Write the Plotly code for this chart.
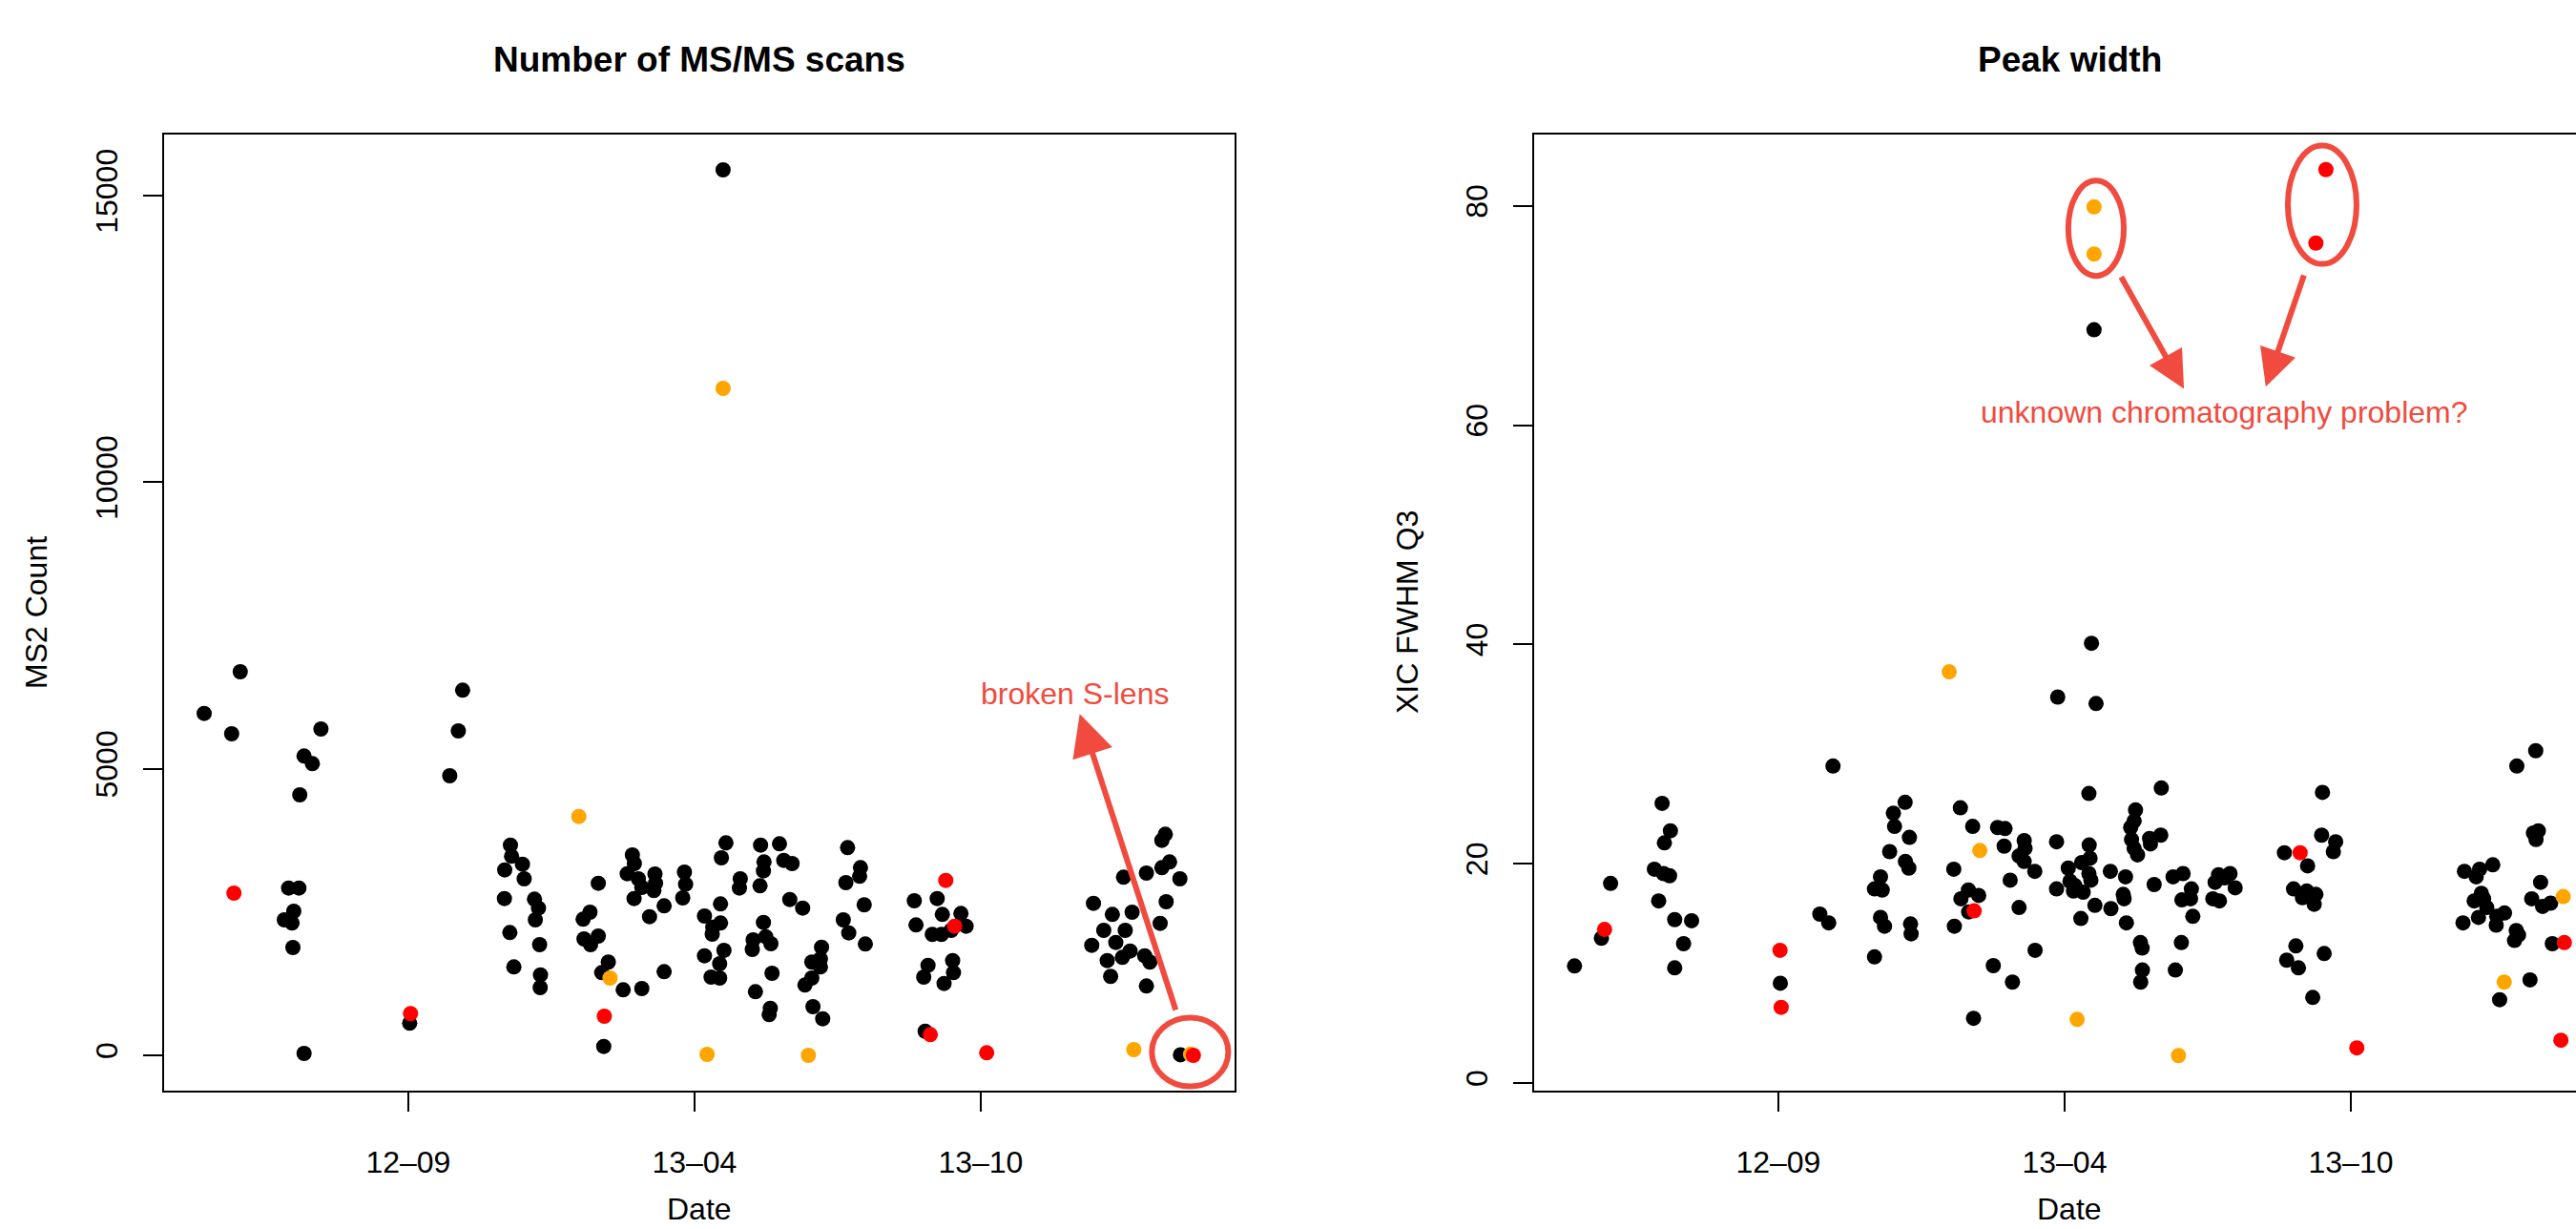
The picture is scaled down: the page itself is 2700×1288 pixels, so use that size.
import plotly.graph_objects as go

W, H = 2700, 1288
FONT = "Liberation Sans, Arial, Helvetica, sans-serif"
ANN = "#F04B3E"

# ---------------- Data (x: position on date axis, 12-09=100, 13-04=200, 13-10=300) -------------
tick_vals = [100, 200, 300]
tick_text = ["12\u201309", "13\u201304", "13\u201310"]
ms2_ticks = [0, 5000, 10000, 15000]
ms2_tick_text = ["0", "5000", "10000", "15000"]
pw_ticks = [0, 20, 40, 60, 80]
pw_tick_text = ["0", "20", "40", "60", "80"]

# Left panel: MS2 Count
ms2_black_x = [41.3, 28.7, 38.3, 69.5, 63.6, 66.5, 62.1, 58.2, 61.8, 60, 56.7, 59.4, 59.7, 63.6, 119, 117.5, 114.5, 100.5,
               135.7, 136.1, 139.9, 133.7, 140.5, 133.6, 144.1, 145.5, 144.4, 135.5, 145.9, 136.9, 146.2, 146.1,
               166.4, 163.5, 161.1, 161.4, 166.4, 163.7, 169.9, 167.6, 175.1, 181.6, 189.4, 168.3,
               178.3, 179, 176.5, 180.4, 186.2, 186.4, 181.6, 185.8, 178.9, 184.3, 189.4, 196.5, 196.9, 195.9,
               211, 209.4, 216, 215.7, 223.1, 229.7, 224.3, 224.1, 231.2, 234.1, 222.9, 209.1, 203.5, 206.4, 209.1,
               206.2, 203.5, 210.3, 208.8, 205.8, 208.8, 233.3, 237.8, 224.1, 220.5, 224.9, 226.7, 220.2, 227.1,
               221.3, 226.5, 226.1, 244.4, 241, 244, 244, 241, 238.6, 241.4, 244.8, 253.5, 258, 257.7, 252.9, 259.3,
               252, 253.9, 259.7,
               276.8, 284.8, 277.4, 286.6, 293.1, 283.1, 286.3, 294.9, 289.7, 281.6, 290.2, 280.1, 290.5, 287.2, 280.6,
               339.4, 346, 349.9, 357.9, 352.9, 343, 350.5, 338.8, 347.2, 352.2, 349.5, 344.2, 357.3, 359.1, 345.4,
               357.9, 364.5, 363.3, 366, 363.3, 369.6, 364.8, 362.7, 369.8, 210]
ms2_black_y = [6693, 5966, 5611, 5694, 5223, 5090, 4545, 2919, 2919, 2514, 2364, 2309, 1881, 33, 6372, 5661, 4878, 561,
               3668, 3474, 3335, 3235, 3080, 2736, 2725, 2569, 2364, 2143, 1931, 1543, 1404, 1182,
               3002, 2498, 2376, 2031, 2081, 1931, 1627, 1443, 1144, 1165, 1460, 155,
               3497, 3347, 3169, 3080, 3163, 3002, 2930, 2875, 2736, 2419, 2609, 3197, 2986, 2747,
               3708, 3447, 3080, 2919, 3668, 3691, 3375, 3219, 3402, 3347, 2958, 2642, 2431, 2236, 2309,
               2115, 1737, 1832, 1598, 1365, 1349, 2719, 2569, 2320, 2015, 2070, 1948, 1848, 1432,
               1110, 821, 711, 1887, 1627, 1682, 1543, 1349, 1227, 849, 638, 3624, 3275, 3125, 3014, 2626,
               2364, 2137, 1943,
               2697, 2736, 2276, 2459, 2476, 2110, 2110, 2253, 2181, 1570, 1654, 1365, 1443, 1254, 421,
               2653, 2459, 3108, 3180, 2498, 2181, 2181, 1920, 1970, 1820, 1710, 1654, 1737, 1627, 1378,
               1210, 3857, 3751, 3375, 3275, 3080, 2681, 2303, 10, 15451]
ms2_orange_x = [159.6, 170.5, 204.4, 239.8, 353.5, 373.3, 210]
ms2_orange_y = [4168, 1349, 17, 0, 100, 20, 11638]
ms2_red_x = [39.1, 100.8, 168.5, 287.8, 290.9, 282.4, 302.1, 374.3]
ms2_red_y = [2830, 728, 683, 3052, 2253, 361, 45, 0]

# Right panel: XIC FWHM Q3
pw_black_x = [28.8, 38.2, 41.4, 59.4, 62.3, 60.2, 56.7, 59.9, 62, 58.2, 63.8, 69.7, 66.9, 63.8, 100.7, 114.5, 117.6,
              119.1, 133.6, 135.7, 133.6, 136.3, 135.7, 137.1, 140.2, 140.6, 144.3, 138.9, 145.8, 144.4, 145.6,
              146.2, 146.4, 163.6, 167.9, 161.3, 166.4, 163.8, 170, 166.5, 161.5, 168.2, 176.6, 179.2, 178.9,
              185.9, 186.2, 184.1, 185.9, 189.6, 181, 184.1, 189.7, 175.1, 181.8,
              209.4, 197.6, 211, 208.5, 233.8, 197.2, 208.6, 208.9, 206, 201.3, 208.5, 209.2, 201.9, 203.6, 197.2,
              203.1, 206.5, 216, 221.3, 210.6, 216.2, 205.7, 220.5, 220.8, 221.6, 231.3, 224.8, 224.3, 223.1,
              223.4, 224.3, 225.5, 229.7, 233.6, 230, 237.9, 241.4, 244.3, 241, 244, 244.8, 226.5, 227.1, 227.2,
              226.6, 240.8, 238.7, 253.8, 257.8, 252.6, 255.9, 259.6, 251.8, 254.1,
              290.1, 289.8, 294.7, 293.9, 276.8, 284.9, 280, 284.6, 287.8, 283.1, 287.2, 280.8, 290.7, 277.6,
              281.7, 286.7, 364.6, 358, 365.5, 363.8, 364.7, 339.7, 345, 349.6, 343.8, 345.6, 343.1, 346.4,
              347.5, 339.2, 344.6, 351, 353.7, 350.8, 357.8, 358.6, 357.2, 366.3, 363.2, 367, 369.8, 370.4,
              362.6, 352, 210.3]
pw_black_y = [10.67, 13.2, 18.2, 25.5, 23.0, 21.9, 19.5, 19.1, 18.9, 16.6, 14.9, 14.8, 12.7, 10.5, 9.1, 15.4, 14.6,
              28.9, 11.5, 18.8, 17.7, 17.6, 15.1, 14.3, 24.6, 23.4, 25.6, 21.1, 22.4, 20.2, 19.6,
              14.5, 13.6, 25.1, 23.4, 19.5, 17.6, 16.8, 17.1, 15.6, 14.3, 5.9, 23.3, 23.2, 21.6,
              22.1, 21.4, 20.7, 20.2, 19.3, 18.5, 16.0, 12.1, 10.7, 9.2,
              40.1, 35.2, 34.6, 26.4, 26.9, 22.0, 21.7, 20.5, 20.1, 19.6, 19.1, 18.5, 18.4, 18.0, 17.7,
              17.5, 17.4, 19.3, 18.8, 16.2, 15.9, 15.0, 17.2, 16.8, 14.6, 18.1, 24.9, 23.9, 23.3,
              22.2, 21.4, 20.8, 22.3, 22.6, 21.8, 18.8, 19.1, 17.7, 16.7, 16.8, 15.2, 12.8, 12.3, 10.3,
              9.2, 12.8, 10.3, 19.0, 19.1, 18.3, 18.7, 17.8, 16.8, 16.6,
              26.5, 22.6, 22.0, 21.1, 21.0, 19.8, 17.7, 17.5, 17.2, 16.9, 16.3, 12.5, 11.8, 11.2,
              10.5, 7.8, 30.3, 28.9, 23.0, 22.8, 22.2, 19.3, 19.5, 19.9, 18.8, 17.3, 16.6, 16.8,
              16.0, 14.6, 15.1, 15.2, 15.5, 14.4, 13.9, 13.5, 13.0, 18.3, 16.8, 16.1, 16.4, 12.7,
              9.4, 7.6, 68.7]
pw_orange_x = [159.7, 170.4, 204.4, 239.8, 374.2, 353.6, 210.3, 210.3]
pw_orange_y = [37.5, 21.2, 5.8, 2.5, 17.0, 9.2, 79.9, 75.6]
pw_red_x = [39.3, 100.6, 101, 168.4, 282.3, 302.1, 374.6, 373.4, 291.3, 287.8]
pw_red_y = [14.0, 12.1, 6.9, 15.7, 21.0, 3.2, 12.8, 3.9, 83.3, 76.6]

# ---------------- Figure -------------
fig = go.Figure()

def add_points(xs, ys, color, xa, ya):
    fig.add_trace(go.Scatter(x=xs, y=ys, mode="markers", xaxis=xa, yaxis=ya,
                             marker=dict(size=16, color=color, line=dict(width=0)),
                             showlegend=False, hoverinfo="skip"))

add_points(ms2_black_x, ms2_black_y, "#000000", "x", "y")
add_points(ms2_orange_x, ms2_orange_y, "#FFA500", "x", "y")
add_points(ms2_red_x, ms2_red_y, "#FF0000", "x", "y")
add_points(pw_black_x, pw_black_y, "#000000", "x2", "y2")
add_points(pw_orange_x, pw_orange_y, "#FFA500", "x2", "y2")
add_points(pw_red_x, pw_red_y, "#FF0000", "x2", "y2")

def px_x(p):
    return p / W

def px_y(p):
    return 1 - p / H

ydom = [px_y(1143), px_y(141)]
axis_common = dict(showgrid=False, zeroline=False, showline=True, linecolor="black", linewidth=2,
                   ticks="outside", ticklen=20, tickwidth=2, tickcolor="black", automargin=False,
                   tickfont=dict(family=FONT, size=32, color="black"))

fig.update_layout(
    width=W, height=H, margin=dict(l=0, r=0, t=0, b=0, autoexpand=False),
    paper_bgcolor="white", plot_bgcolor="white",
    xaxis=dict(domain=[px_x(172), px_x(1294)], range=[14.7, 388.7], tickvals=tick_vals, ticktext=tick_text,
               mirror=True, ticklabelstandoff=26, anchor="y", **axis_common),
    yaxis=dict(domain=ydom, range=[-616, 16067], tickvals=ms2_ticks, ticktext=ms2_tick_text, tickangle=-90,
               mirror=True, ticklabelstandoff=14, anchor="x", **axis_common),
    xaxis2=dict(domain=[px_x(1608), 1.0], range=[14.7, 378.67], tickvals=tick_vals, ticktext=tick_text,
                mirror=True, ticklabelstandoff=26, anchor="y2", **axis_common),
    yaxis2=dict(domain=ydom, range=[-0.7, 86.5], tickvals=pw_ticks, ticktext=pw_tick_text, tickangle=-90,
                mirror=False, ticklabelstandoff=14, anchor="x2", **axis_common),
)

ann = []
# Titles
ann.append(dict(text="<b>Number of MS/MS scans</b>", x=px_x(733), y=px_y(62), xref="paper", yref="paper",
                showarrow=False, xanchor="center", yanchor="middle", font=dict(family=FONT, size=37, color="black")))
ann.append(dict(text="<b>Peak width</b>", x=px_x(2169), y=px_y(62), xref="paper", yref="paper",
                showarrow=False, xanchor="center", yanchor="middle", font=dict(family=FONT, size=37, color="black")))
# Axis titles
for t, xx in [("Date", 733), ("Date", 2169)]:
    ann.append(dict(text=t, x=px_x(xx), y=px_y(1267), xref="paper", yref="paper", showarrow=False,
                    xanchor="center", yanchor="middle", font=dict(family=FONT, size=32, color="black")))
ann.append(dict(text="MS2 Count", x=px_x(38), y=px_y(642), xref="paper", yref="paper", showarrow=False,
                textangle=-90, xanchor="center", yanchor="middle", font=dict(family=FONT, size=32, color="black")))
ann.append(dict(text="XIC FWHM Q3", x=px_x(1475), y=px_y(642), xref="paper", yref="paper", showarrow=False,
                textangle=-90, xanchor="center", yanchor="middle", font=dict(family=FONT, size=32, color="black")))
# Callout texts
ann.append(dict(text="broken S-lens", x=332.7, y=6310, xref="x", yref="y", showarrow=False,
                xanchor="center", yanchor="middle", font=dict(family=FONT, size=32, color=ANN)))
ann.append(dict(text="unknown chromatography problem?", x=256, y=61.2, xref="x2", yref="y2", showarrow=False,
                xanchor="center", yanchor="middle", font=dict(family=FONT, size=32, color=ANN)))
# Arrows
ann.append(dict(text="", x=334.6, y=5956, ax=368.3, ay=766, xref="x", yref="y", axref="x", ayref="y",
                showarrow=True, arrowhead=2, arrowsize=1.45, arrowwidth=6, arrowcolor=ANN, standoff=0, startstandoff=0))
ann.append(dict(text="", x=241.7, y=63.3, ax=219.5, ay=73.65, xref="x2", yref="y2", axref="x2", ayref="y2",
                showarrow=True, arrowhead=2, arrowsize=1.3, arrowwidth=6, arrowcolor=ANN, standoff=0, startstandoff=0))
ann.append(dict(text="", x=270.3, y=63.5, ax=283.8, ay=73.8, xref="x2", yref="y2", axref="x2", ayref="y2",
                showarrow=True, arrowhead=2, arrowsize=1.3, arrowwidth=6, arrowcolor=ANN, standoff=0, startstandoff=0))
fig.update_layout(annotations=ann)

# Circles / ellipses
fig.add_shape(type="circle", xref="x", yref="y", x0=359.8, x1=386.5, y0=-541, y1=658,
              line=dict(color=ANN, width=6))
fig.add_shape(type="circle", xref="x2", yref="y2", x0=201.3, x1=220.7, y0=73.6, y1=82.3,
              line=dict(color=ANN, width=6))
fig.add_shape(type="circle", xref="x2", yref="y2", x0=278, x1=302, y0=74.7, y1=85.5,
              line=dict(color=ANN, width=6))

fig.write_html("out.html", config={"displayModeBar": False},
               post_script="document.body.style.margin='0';document.body.style.overflow='hidden';")
